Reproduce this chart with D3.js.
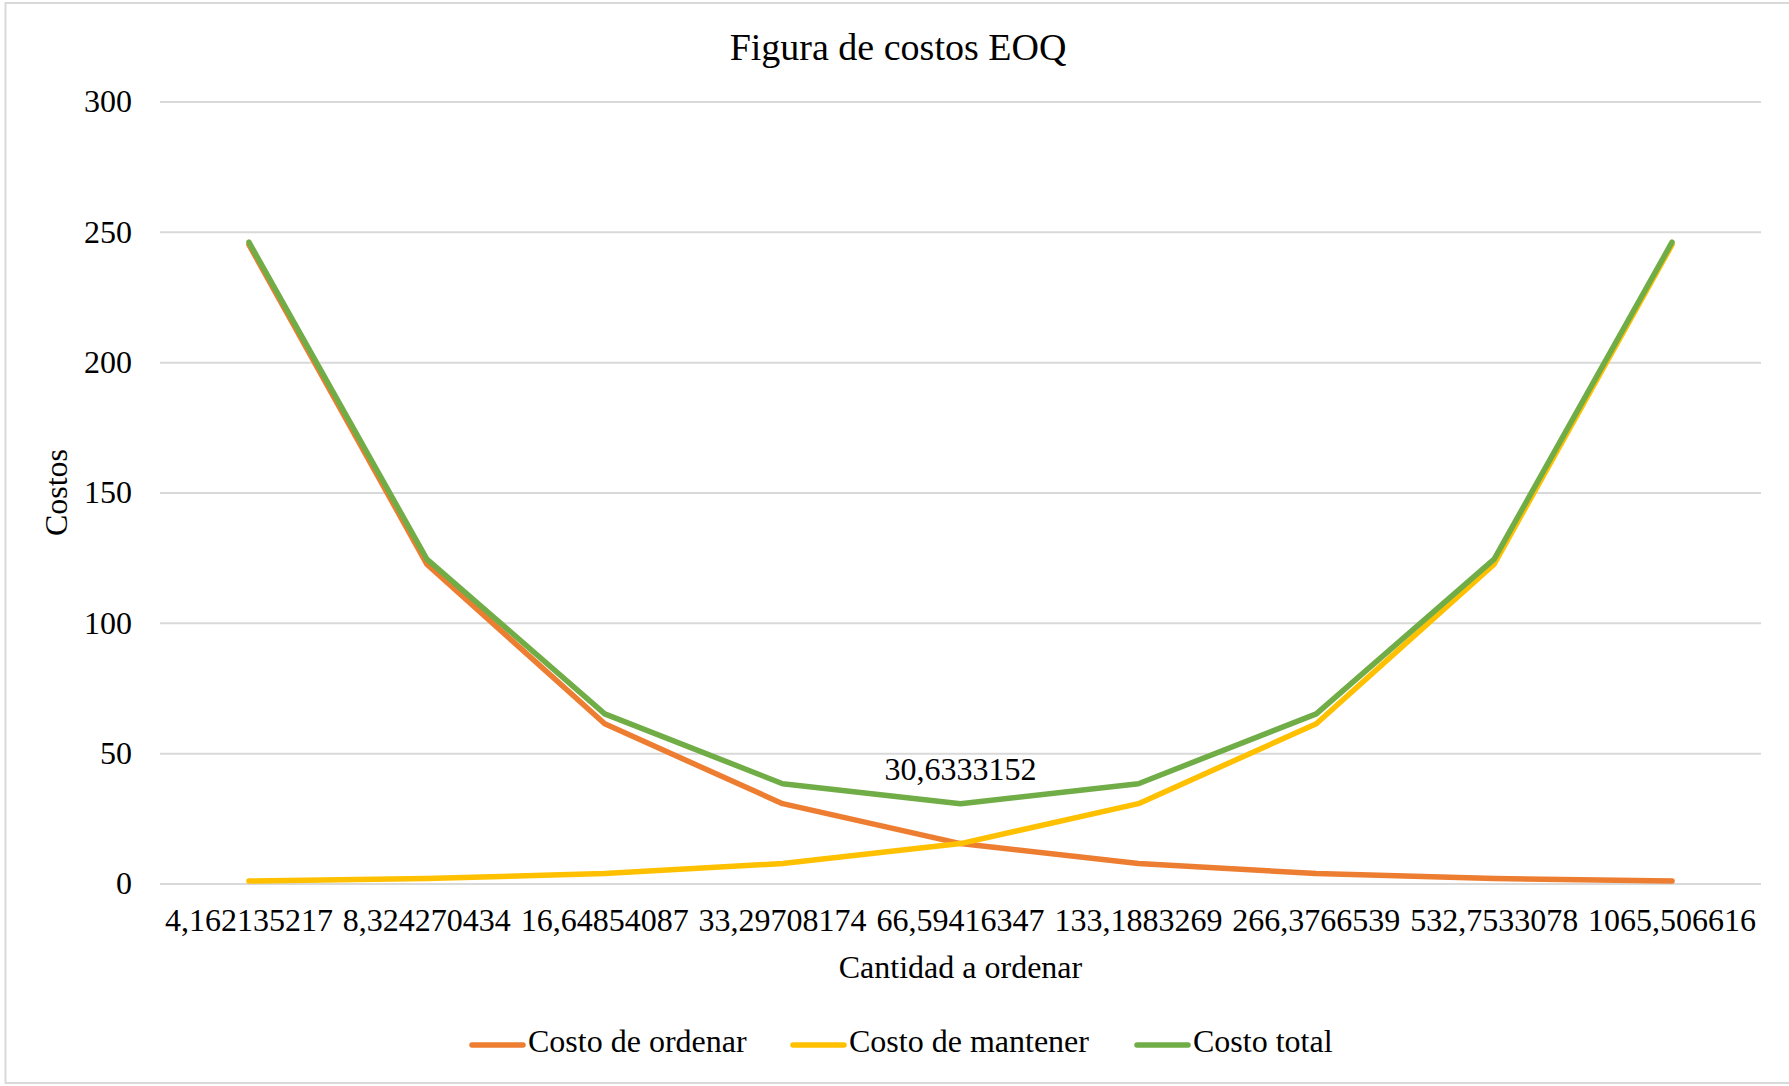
<!DOCTYPE html>
<html>
<head>
<meta charset="utf-8">
<script src="https://cdn.jsdelivr.net/npm/d3@7"></script>
<style>
  html, body { margin: 0; padding: 0; background: #ffffff; }
  svg { display: block; }
  text { font-family: "Liberation Serif", "Times New Roman", serif; fill: #000; }
</style>
</head>
<body>
<svg id="chart" width="1789" height="1086"></svg>
<script>
// ---- Data ----
const categories = ["4,162135217", "8,324270434", "16,64854087", "33,29708174", "66,59416347",
                    "133,1883269", "266,3766539", "532,7533078", "1065,506616"];
const costoOrdenar  = [245.07, 122.53, 61.27, 30.63, 15.32, 7.66, 3.83, 1.91, 0.96];
const costoMantener = [0.96, 1.91, 3.83, 7.66, 15.32, 30.63, 61.27, 122.53, 245.07];
const costoTotal    = [246.02, 124.45, 65.09, 38.29, 30.63, 38.29, 65.09, 124.45, 246.02];
const yTicks = [0, 50, 100, 150, 200, 250, 300];
const seriesNames = ["Costo de ordenar", "Costo de mantener", "Costo total"];
const seriesColors = ["#ED7D31", "#FFC000", "#70AD47"];
const labelIndex = 4;
const labelText = "30,6333152";

// ---- Layout ----
const W = 1789, H = 1086;
const plot = { left: 160, right: 1761, top: 101.5, bottom: 883.5 };

const svg = d3.select("#chart");

// chart border
svg.append("rect")
  .attr("x", 5.5).attr("y", 3)
  .attr("width", W + 10).attr("height", 1080)
  .attr("fill", "#fff")
  .attr("stroke", "#D9D9D9").attr("stroke-width", 2);

const x = d3.scaleBand().domain(categories).range([plot.left, plot.right]).padding(0);
const xc = c => x(c) + x.bandwidth() / 2;
const y = d3.scaleLinear().domain([0, 300]).range([plot.bottom, plot.top]);

// gridlines + y axis
const yAxis = d3.axisLeft(y).tickValues(yTicks).tickSize(-(plot.right - plot.left)).tickPadding(28).tickFormat(d3.format("d"));
const gy = svg.append("g").attr("transform", `translate(${plot.left},0)`).call(yAxis);
gy.select(".domain").remove();
gy.selectAll(".tick line").attr("stroke", "#D9D9D9").attr("stroke-width", 2);
gy.selectAll(".tick text").style("font-size", "32px").style("font-family", "'Liberation Serif', serif").attr("fill", "#000");

// x axis labels
const xAxis = d3.axisBottom(x).tickSize(0).tickPadding(0);
const gx = svg.append("g").attr("transform", `translate(0,${plot.bottom})`).call(xAxis);
gx.select(".domain").remove();
gx.selectAll(".tick text").style("font-size", "32px").style("font-family", "'Liberation Serif', serif")
  .attr("fill", "#000").attr("dy", null).attr("y", 40).attr("dominant-baseline", "middle");

// lines
const allSeries = [costoOrdenar, costoMantener, costoTotal];
const line = d3.line().x((d, i) => xc(categories[i])).y(d => y(d));
allSeries.forEach((s, k) => {
  svg.append("path")
    .datum(s)
    .attr("d", line)
    .attr("fill", "none")
    .attr("stroke", seriesColors[k])
    .attr("stroke-width", 5.5)
    .attr("stroke-linejoin", "round")
    .attr("stroke-linecap", "round");
});

// data label
svg.append("text")
  .attr("x", xc(categories[labelIndex]))
  .attr("y", y(costoTotal[labelIndex]) - 31)
  .attr("text-anchor", "middle")
  .attr("dominant-baseline", "middle")
  .style("font-size", "32px")
  .text(labelText);

// title
svg.append("text")
  .attr("x", 898).attr("y", 51)
  .attr("text-anchor", "middle").attr("dominant-baseline", "middle")
  .style("font-size", "38px")
  .text("Figura de costos EOQ");

// axis titles
svg.append("text")
  .attr("x", (plot.left + plot.right) / 2 + 0).attr("y", 971)
  .attr("text-anchor", "middle").attr("dominant-baseline", "middle")
  .style("font-size", "32px")
  .text("Cantidad a ordenar");

svg.append("text")
  .attr("transform", `translate(60,${(plot.top + plot.bottom) / 2}) rotate(-90)`)
  .attr("text-anchor", "middle").attr("dominant-baseline", "middle")
  .style("font-size", "32px")
  .text("Costos");

// legend
const legendX = [470, 791, 1135];
const legendY = 1045;
seriesNames.forEach((n, k) => {
  const g = svg.append("g").attr("transform", `translate(${legendX[k]},${legendY})`);
  g.append("line").attr("x1", 2).attr("x2", 53).attr("y1", 0).attr("y2", 0)
    .attr("stroke", seriesColors[k]).attr("stroke-width", 5.5).attr("stroke-linecap", "round");
  g.append("text").attr("x", 58).attr("y", 0).attr("dominant-baseline", "middle")
    .style("font-size", "32px").text(n);
});
</script>
</body>
</html>
